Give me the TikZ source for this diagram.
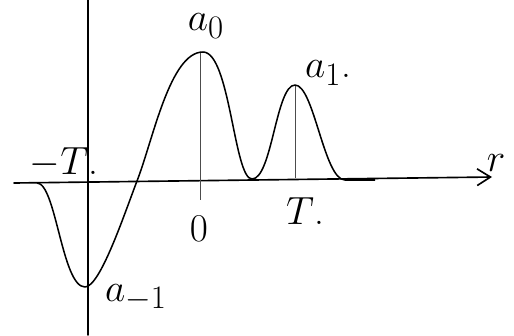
\documentclass[tikz,border=0pt]{standalone}
\usepackage{amsmath,amssymb}
\usepackage{xcolor}
\usepackage{tikz}
\usetikzlibrary{calc,arrows.meta,positioning}

\begin{document}
\begin{tikzpicture}[
    x=0.03cm, y=-0.03cm,
    axis/.style={line width=1.4pt, line cap=round},
    pulse/.style={line width=1.3pt, line join=round},
    tick/.style={line width=0.5pt, black!70},
    lbl/.style={font=\Huge, inner sep=0pt, scale=1.35, transform shape}
]
    \useasboundingbox (0,0) rectangle (514,335);

    % axes
    \coordinate (xl) at (14,183);
    \coordinate (xr) at (492,177);
    \coordinate (yt) at (88,0);
    \coordinate (yb) at (88,335);
    \draw[axis, -{Straight Barb[length=4mm, width=5mm, line width=1.4pt]}] (xl) -- (xr);
    \draw[axis] (yt) -- (yb);

    % the pulse train
    \coordinate (s) at (37,183);
    \coordinate (m) at (85,287);
    \coordinate (c) at (137,181);
    \coordinate (k0) at (203,52);
    \coordinate (v) at (252,179);
    \coordinate (k1) at (295,85);
    \coordinate (e) at (345,180);
    \draw[pulse] (s) .. controls (56,183) and (62,287) .. (m)
        .. controls (100,287) and (124,215) .. (c)
        .. controls (153,140) and (170,52) .. (k0)
        .. controls (230,52) and (234,179) .. (v)
        .. controls (272,179) and (276,85) .. (k1)
        .. controls (314,85) and (324,180) .. (e) -- (375,180);

    % peak markers
    \coordinate (p0) at (200,53);
    \coordinate (q0) at (200,200);
    \coordinate (p1) at (295,86);
    \coordinate (q1) at (295,178);
    \draw[tick] (p0) -- (q0);
    \draw[tick] (p1) -- (q1);

    % labels
    \node[lbl] (a0) at (206,26) {$a_0$};
    \node[lbl] (a1) at (328,73) {$a_1$.};
    \node[lbl] (am1) at (136,298) {$a_{-1}$};
    \node[lbl] (mT) at (64,163) {$-T$.};
    \node[lbl] (T) at (305,211) {$T$.};
    \node[lbl] (o) at (199,229) {$0$};
    \node[lbl] (r) at (496,163) {$r$};
\end{tikzpicture}
\end{document}
